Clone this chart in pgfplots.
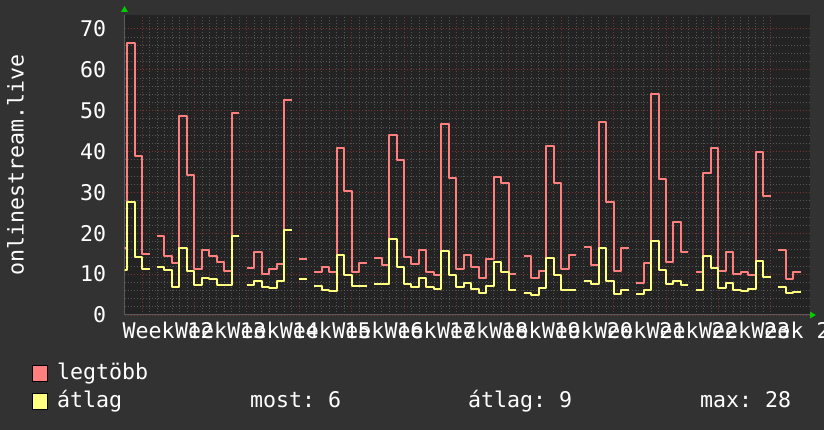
\documentclass[border=0pt]{standalone}
\usepackage{fontspec}
\setmainfont{DejaVu Sans Mono}
\usepackage{pgfplots}
\pgfplotsset{compat=1.18}
\usepackage{pgfplotstable}
\usetikzlibrary{arrows.meta}
\definecolor{canvas}{HTML}{323232}
\definecolor{plotbg}{HTML}{232323}
\definecolor{gridminor}{HTML}{555555}
\definecolor{gridmajor}{HTML}{7A3333}
\definecolor{axisgray}{HTML}{5A5A5A}
\definecolor{maxc}{HTML}{FF7F7F}
\definecolor{avgc}{HTML}{FFFF80}
\definecolor{arrowg}{HTML}{00CC00}
\newcommand{\rf}{\fontsize{21.6}{24}\selectfont}
\frenchspacing

\pgfplotstableread{
x max avg
-3 16.4 11.0
-2 66.6 27.6
-1 39.0 14.3
0 14.9 11.3
1 14.9 11.3
1 nan nan
2 19.4 11.8
3 14.4 11.0
4 12.8 6.8
5 48.8 16.5
6 34.3 10.8
7 11.3 7.3
8 15.8 9.0
9 14.5 8.7
10 12.9 7.3
11 10.8 7.3
12 49.3 19.4
13 49.3 19.4
13 nan nan
14 11.5 7.3
15 15.4 8.4
16 10.0 6.9
17 11.2 6.7
18 12.4 8.2
19 52.7 20.9
20 52.7 20.9
20 nan nan
21 13.8 8.7
22 13.8 8.7
22 nan nan
23 10.4 7.2
24 11.7 6.1
25 10.4 5.9
26 40.8 14.8
27 30.4 9.8
28 10.4 7.2
29 12.6 7.2
30 12.6 7.2
30 nan nan
31 13.9 7.6
32 12.2 7.6
33 44.1 18.7
34 37.8 11.7
35 14.1 7.6
36 12.5 6.9
37 15.8 9.0
38 10.6 6.8
39 9.8 6.4
40 46.7 15.7
41 33.5 9.8
42 11.3 6.9
43 14.7 7.9
44 11.8 6.3
45 9.0 5.3
46 13.8 7.1
47 33.8 13.0
48 32.2 10.4
49 10.0 6.1
50 10.0 6.1
50 nan nan
51 14.5 5.5
52 9.0 4.9
53 10.8 6.5
54 41.4 13.9
55 32.2 9.8
56 11.3 6.1
57 14.7 6.1
58 14.7 6.1
58 nan nan
59 16.7 8.4
60 12.2 7.6
61 47.1 16.5
62 27.7 8.4
63 10.8 5.1
64 16.5 6.1
65 16.5 6.1
65 nan nan
66 7.9 5.1
67 12.6 6.1
68 54.1 18.2
69 33.3 11.0
70 13.0 7.6
71 22.8 8.4
72 15.3 7.3
73 15.3 7.3
73 nan nan
74 10.4 6.1
75 34.7 14.5
76 40.9 11.4
77 10.8 6.5
78 15.5 7.9
79 10.0 6.1
80 10.4 5.9
81 9.8 6.4
82 40.0 13.3
83 29.0 9.4
84 29.0 9.4
84 nan nan
85 15.9 6.8
86 8.9 5.5
87 10.6 5.7
88 10.6 5.7
}\datatable

\begin{document}
\begin{tikzpicture}[x=1pt,y=1pt]
\useasboundingbox (0,0) rectangle (824,430);
\clip (0,0) rectangle (824,430);
\fill[canvas] (0,0) rectangle (824,430);
\begin{axis}[
  at={(124.5pt,115pt)}, anchor=south west,
  scale only axis, width=685pt, height=300pt,
  xmin=-2.34, xmax=89.17, ymin=0, ymax=73.4,
  axis background/.style={fill=plotbg},
  axis x line=bottom, axis y line=left,
  axis line style={draw=axisgray, line width=1pt, -},
  xtick={0,7,...,84}, xticklabels={},
  extra x ticks={3.5,10.5,...,87.5},
  extra x tick labels={Week 12,Week 13,Week 14,Week 15,Week 16,Week 17,Week 18,Week 19,Week 20,Week 21,Week 22,Week 23,Week 24},
  extra x tick style={grid=none, major tick length=0pt},
  ytick={0,10,...,70},
  minor x tick num=6, minor y tick num=4,
  grid=both,
  minor grid style={draw=gridminor, line width=0.8pt, dash pattern=on 1pt off 2pt},
  major grid style={draw=gridmajor, line width=0.8pt, dash pattern=on 1pt off 2pt},
  tick style={draw=none},
  /pgf/number format/assume math mode=true,
  tick label style={font=\rf, text=white},
  yticklabel style={anchor=east, inner sep=0pt, xshift=-16pt},
  xticklabel style={anchor=north, inner sep=0pt, yshift=-7pt},
  ylabel={onlinestream.live},
  ylabel style={font=\rf, text=white, at={(axis description cs:-0.159,0.5)}, anchor=center, rotate=0},
  unbounded coords=jump,
  clip=true,
]
\addplot[const plot, draw=maxc, line width=2pt, line join=round, mark=none] table[x=x, y=max] {\datatable};
\addplot[const plot, draw=avgc, line width=2pt, line join=round, mark=none] table[x=x, y=avg] {\datatable};
\end{axis}
% axis arrows
\fill[arrowg] (121,418) -- (128,418) -- (124.5,424) -- cycle;
\fill[arrowg] (810,111.5) -- (810,118.5) -- (816,115) -- cycle;
% legend
\fill[maxc, draw=black, line width=0.8pt] (32,49) rectangle (47,65);
\fill[avgc, draw=black, line width=0.8pt] (32,21) rectangle (47,37);
\node[anchor=base west, inner sep=0pt, text=white, font=\rf] at (57,50) {legtöbb};
\node[anchor=base west, inner sep=0pt, text=white, font=\rf] at (57,22) {átlag};
\node[anchor=base west, inner sep=0pt, text=white, font=\rf] at (250,22) {most: 6};
\node[anchor=base west, inner sep=0pt, text=white, font=\rf] at (468,22) {átlag: 9};
\node[anchor=base west, inner sep=0pt, text=white, font=\rf] at (700,22) {max: 28};
\end{tikzpicture}
\end{document}
